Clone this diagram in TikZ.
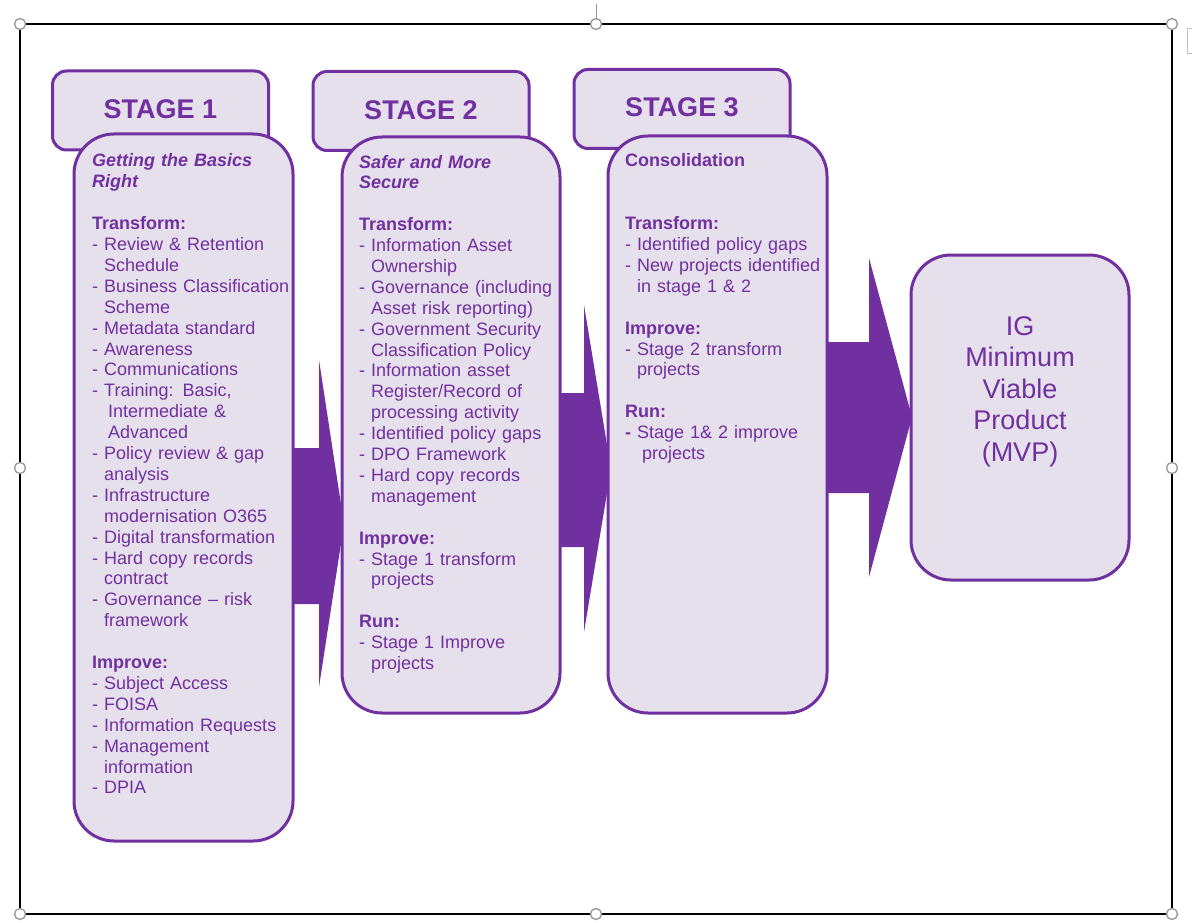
\documentclass[tikz,border=0pt]{standalone}
\usepackage{fontspec}
\setmainfont{Liberation Sans}
\definecolor{ppl}{RGB}{112,48,160}
\definecolor{lav}{RGB}{230,224,236}
\definecolor{hgr}{RGB}{150,150,150}
\newcommand\dind{\phantom{- }}
\begin{document}
\begin{tikzpicture}[x=1pt,y=-1pt,
  box/.style={draw=ppl, fill=lav, line width=3pt, inner sep=0pt},
  hdr/.style={box, rounded corners=14pt, minimum width=216pt, minimum height=79pt, text=ppl, font=\fontsize{27}{30}\selectfont\bfseries},
  body/.style={box, rounded corners=40pt},
  txt/.style={text=ppl, font=\fontsize{18}{20.9}\selectfont, align=left, text width=232pt, inner sep=0pt, anchor=base west},
  blk/.style={fill=ppl},
  handle/.style={draw=hgr, fill=white, line width=1.3pt}]
\useasboundingbox (0,0) rectangle (1192,923);
% frame
\draw[line width=2pt] (20,24) rectangle (1172,914);
\draw[hgr, line width=1pt] (596,4) -- (596,19);
\draw[hgr!60, line width=0.8pt] (1196,28) -- (1187,28) -- (1187,53) -- (1196,53);
% headers
\node[hdr] (h1) at (160.5,110.5) {\raisebox{2.5pt}{STAGE 1}};
\node[hdr] (h2) at (421,111) {\raisebox{2pt}{STAGE 2}};
\node[hdr] (h3) at (682,109) {\raisebox{3pt}{STAGE 3}};
% block arrows
\fill[blk] (291,448) -- (319,448) -- (319,360) -- (344,524) -- (319,687) -- (319,604) -- (291,604) -- cycle;
\fill[blk] (556,393) -- (584,393) -- (584,305) -- (611,469) -- (584,632) -- (584,547) -- (556,547) -- cycle;
\fill[blk] (826,342) -- (869,342) -- (869,258) -- (912,417) -- (869,577) -- (869,493) -- (826,493) -- cycle;
% bodies
\node[body, minimum width=219pt, minimum height=707pt] (b1) at (183.5,487.5) {};
\node[body, minimum width=218pt, minimum height=576pt] (b2) at (451,425) {};
\node[body, minimum width=219pt, minimum height=577pt] (b3) at (717.5,424.5) {};
\node[body, minimum width=218pt, minimum height=325pt] (mvp) at (1020,417.5) {};
% texts
\node[txt] (t1) at (92,167) {%
\textbf{\textit{Getting the Basics}}\\
\textbf{\textit{Right}}\\
\mbox{}\\
\textbf{Transform:}\\
- Review \& Retention\\
\dind Schedule\\
- Business Classification\\
\dind Scheme\\
- Metadata standard\\
- Awareness\\
- Communications\\
- Training: Basic,\\
\dind\hspace{4pt}Intermediate \&\\
\dind\hspace{4pt}Advanced\\
- Policy review \& gap\\
\dind analysis\\
- Infrastructure\\
\dind modernisation O365\\
- Digital transformation\\
- Hard copy records\\
\dind contract\\
- Governance – risk\\
\dind framework\\
\mbox{}\\
\textbf{Improve:}\\
- Subject Access\\
- FOISA\\
- Information Requests\\
- Management\\
\dind information\\
- DPIA};
\node[txt] (t2) at (359,168) {%
\textbf{\textit{Safer and More}}\\
\textbf{\textit{Secure}}\\
\mbox{}\\
\textbf{Transform:}\\
- Information Asset\\
\dind Ownership\\
- Governance (including\\
\dind Asset risk reporting)\\
- Government Security\\
\dind Classification Policy\\
- Information asset\\
\dind Register/Record of\\
\dind processing activity\\
- Identified policy gaps\\
- DPO Framework\\
- Hard copy records\\
\dind management\\
\mbox{}\\
\textbf{Improve:}\\
- Stage 1 transform\\
\dind projects\\
\mbox{}\\
\textbf{Run:}\\
- Stage 1 Improve\\
\dind projects};
\node[txt] (t3) at (625,167) {%
\textbf{Consolidation}\\
\mbox{}\\
\mbox{}\\
\textbf{Transform:}\\
- Identified policy gaps\\
- New projects identified\\
\dind in stage 1 \& 2\\
\mbox{}\\
\textbf{Improve:}\\
- Stage 2 transform\\
\dind projects\\
\mbox{}\\
\textbf{Run:}\\
\textbf{-} Stage 1\& 2 improve\\
\dind\hspace{5pt}projects};
\node[text=ppl, font=\fontsize{27}{31.5}\selectfont, align=center, inner sep=0pt] (mvpt) at ([yshift=26pt]mvp.center) {IG\\Minimum\\Viable\\Product\\(MVP)};
% handles
\foreach \hx/\hy in {20/24, 596/24, 1172/24, 20/468, 1172/468, 20/914, 596/914, 1172/914}
  \draw[handle] (\hx,\hy) circle (5.5);
\end{tikzpicture}
\end{document}
